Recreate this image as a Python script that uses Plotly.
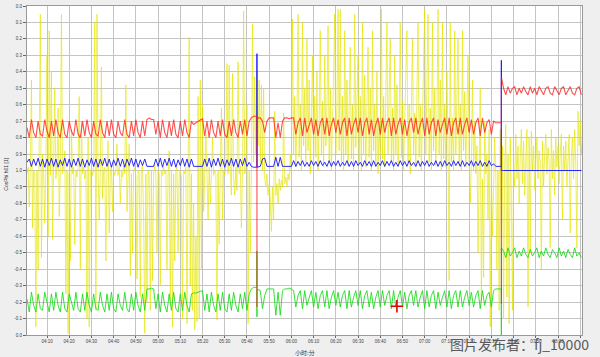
import plotly.graph_objects as go

# ---------------- data ----------------
# time in minutes after midnight; cos phi plotted on a folded scale:
# 0.0 (top) ... 1.0 (middle) ... -0.0 (bottom) -> stored as 0..2
T_START = 241          # 04:01
T_END = 490.8
T_SPIKE = 344.5        # 05:44
T_JUMP = 454.5         # 07:34
T_CURSOR = 407.5
CURSOR_VAL = 1.825

TIME_TICKS = [250, 260, 270, 280, 290, 300, 310, 320, 330, 340, 350, 360, 370, 380,
              390, 400, 410, 420, 430, 440, 450, 460, 470, 480, 490]
TIME_LABELS = ["04:10", "04:20", "04:30", "04:40", "04:50", "05:00", "05:10", "05:20",
               "05:30", "05:40", "05:50", "06:00", "06:10", "06:20", "06:30", "06:40",
               "06:50", "07:00", "07:10", "07:20", "07:30", "07:40", "07:50", "08:00", ""]
Y_LABELS = ["0.0", "0.1", "0.2", "0.3", "0.4", "0.5", "0.6", "0.7", "0.8", "0.9", "1.0",
            "-0.9", "-0.8", "-0.7", "-0.6", "-0.5", "-0.4", "-0.3", "-0.2", "-0.1", "0.0"]

# ---- red (1-min samples) ----
RED_1 = [0.74, 0.80, 0.69, 0.77, 0.80, 0.70, 0.78, 0.79, 0.69, 0.76,
         0.80, 0.70, 0.79, 0.69, 0.77, 0.80, 0.69, 0.78, 0.80, 0.70,
         0.76, 0.79, 0.69, 0.78, 0.80, 0.70, 0.79, 0.69, 0.77, 0.80,
         0.70, 0.78, 0.79, 0.69, 0.77, 0.80, 0.70, 0.79, 0.69, 0.78,
         0.80, 0.70, 0.77, 0.79, 0.69, 0.78, 0.80, 0.70, 0.79, 0.69,
         0.77, 0.80, 0.70, 0.79,
         0.69, 0.68, 0.69, 0.69,
         0.78, 0.70, 0.80, 0.69, 0.77, 0.80, 0.70, 0.79, 0.69, 0.78, 0.80, 0.70, 0.79, 0.69, 0.77, 0.80, 0.70,
         0.72, 0.71, 0.70, 0.69, 0.685,
         0.79, 0.70, 0.80, 0.69, 0.77, 0.80, 0.70, 0.79, 0.69, 0.78, 0.80, 0.70, 0.79, 0.69, 0.77, 0.80, 0.70,
         0.78, 0.69, 0.79, 0.70,
         0.68, 0.67, 0.67]
RED_SPIKE = [0.67, 1.83, 0.68]
RED_2 = [0.68, 0.70, 0.77, 0.70, 0.68, 0.68,
         0.68, 0.80, 0.71, 0.80, 0.70,
         0.68, 0.68, 0.685, 0.68,
         0.68, 0.78, 0.71, 0.68, 0.79, 0.68, 0.77, 0.72, 0.68, 0.78,
         0.69, 0.79, 0.71, 0.68, 0.78, 0.68, 0.79, 0.72, 0.68, 0.77,
         0.69, 0.78, 0.71, 0.68, 0.79, 0.68, 0.78, 0.72, 0.68, 0.77,
         0.68, 0.79, 0.71, 0.68, 0.78, 0.69, 0.79, 0.72, 0.68, 0.78,
         0.68, 0.77, 0.71, 0.68, 0.79, 0.68, 0.78, 0.72, 0.68, 0.78,
         0.69, 0.79, 0.71, 0.68, 0.77, 0.68, 0.78, 0.72, 0.68, 0.79,
         0.68, 0.78, 0.71, 0.68, 0.79, 0.69, 0.77, 0.72, 0.68, 0.78,
         0.68, 0.79, 0.71, 0.68, 0.78, 0.68, 0.78, 0.72, 0.68, 0.77,
         0.69, 0.78, 0.71, 0.68, 0.79, 0.68, 0.77, 0.71, 0.69, 0.78,
         0.70,
         0.71, 0.71]
RED_JUMP = [0.71, 1.81, 0.43]
RED_3 = [0.50, 0.54, 0.49, 0.53, 0.50, 0.49, 0.54, 0.50, 0.53, 0.49,
         0.52, 0.54, 0.49, 0.53, 0.50, 0.54, 0.49, 0.52, 0.54, 0.50,
         0.49, 0.53, 0.54, 0.49, 0.52, 0.54, 0.50, 0.49, 0.54, 0.51,
         0.49, 0.53, 0.54, 0.50, 0.49, 0.54]

# ---- blue ----
BLUE_1 = [0.95, 0.93, 0.975, 0.93, 0.97, 0.925, 0.975, 0.93, 0.98, 0.93,
          0.97, 0.925, 0.975, 0.93, 0.98, 0.935, 0.97, 0.925, 0.975, 0.93,
          0.98, 0.93, 0.97, 0.925, 0.975, 0.93, 0.98, 0.935, 0.97, 0.925,
          0.975, 0.93, 0.98, 0.93, 0.97, 0.925, 0.975, 0.93, 0.98, 0.935,
          0.97, 0.925, 0.975, 0.93, 0.98, 0.93, 0.97, 0.925, 0.975, 0.93,
          0.98, 0.935, 0.97, 0.93,
          0.975, 0.975, 0.975, 0.975,
          0.93, 0.975, 0.925, 0.98, 0.93, 0.97, 0.925, 0.975, 0.93, 0.98, 0.935, 0.97, 0.925, 0.975, 0.93, 0.98, 0.93,
          0.975, 0.975, 0.975, 0.975, 0.975,
          0.93, 0.975, 0.925, 0.98, 0.93, 0.97, 0.925, 0.975, 0.93, 0.98, 0.935, 0.97, 0.925, 0.975, 0.93, 0.98, 0.93,
          0.97, 0.925, 0.975, 0.95,
          0.975, 0.98, 0.98]
BLUE_SPIKE = [0.98, 0.29, 0.98]
BLUE_2 = [0.975, 0.93, 0.925, 0.975, 0.975, 0.975,
          0.975, 0.92, 0.975, 0.92, 0.975,
          0.975, 0.975, 0.975, 0.975,
          0.94, 0.975, 0.945, 0.97, 0.94, 0.975, 0.95, 0.975, 0.94, 0.97,
          0.945, 0.975, 0.94, 0.97, 0.95, 0.975, 0.94, 0.975, 0.945, 0.97,
          0.94, 0.975, 0.95, 0.97, 0.94, 0.975, 0.945, 0.975, 0.94, 0.97,
          0.95, 0.975, 0.94, 0.97, 0.945, 0.975, 0.94, 0.975, 0.95, 0.97,
          0.94, 0.975, 0.945, 0.97, 0.94, 0.975, 0.95, 0.975, 0.94, 0.97,
          0.945, 0.975, 0.94, 0.97, 0.95, 0.975, 0.94, 0.975, 0.945, 0.97,
          0.94, 0.975, 0.95, 0.97, 0.94, 0.975, 0.945, 0.975, 0.94, 0.97,
          0.95, 0.975, 0.94, 0.97, 0.945, 0.975, 0.94, 0.975, 0.95, 0.97,
          0.94, 0.975, 0.945, 0.97, 0.94, 0.975, 0.95, 0.975, 0.94, 0.97,
          0.96,
          0.975, 0.975]
BLUE_JUMP = [0.975, 0.33, 1.0]
BLUE_3 = [1.0, 1.0, 1.0, 1.0, 1.0, 1.0, 1.0, 1.0, 1.0, 1.0, 1.0, 1.0,
          1.0, 1.0, 1.0, 1.0, 1.0, 1.0, 1.0, 1.0, 1.0, 1.0, 1.0, 1.0,
          1.0, 1.0, 1.0, 1.0, 1.0, 1.0, 1.0, 1.0, 1.0, 1.0, 1.0, 1.0]

# ---- green ----
GREEN_1 = [1.78, 1.86, 1.74, 1.82, 1.86, 1.75, 1.84, 1.85, 1.74, 1.81,
           1.86, 1.75, 1.85, 1.74, 1.82, 1.86, 1.74, 1.84, 1.86, 1.75,
           1.81, 1.85, 1.74, 1.84, 1.86, 1.75, 1.85, 1.74, 1.82, 1.86,
           1.75, 1.84, 1.85, 1.74, 1.82, 1.86, 1.75, 1.85, 1.74, 1.84,
           1.86, 1.75, 1.82, 1.85, 1.74, 1.84, 1.86, 1.75, 1.85, 1.74,
           1.82, 1.86, 1.75, 1.85,
           1.72, 1.72, 1.715, 1.72,
           1.84, 1.75, 1.86, 1.74, 1.82, 1.86, 1.75, 1.85, 1.74, 1.84, 1.86, 1.75, 1.85, 1.74, 1.82, 1.86, 1.75,
           1.745, 1.745, 1.74, 1.735, 1.73,
           1.85, 1.75, 1.86, 1.74, 1.82, 1.86, 1.75, 1.85, 1.74, 1.84, 1.86, 1.75, 1.85, 1.74, 1.82, 1.86, 1.75,
           1.84, 1.74, 1.85, 1.75,
           1.72, 1.71, 1.71]
GREEN_SPIKE = [1.71, 1.49, 1.89, 1.72]
GREEN_2 = [1.73, 1.84, 1.76, 1.72, 1.72, 1.72,
           1.72, 1.88, 1.74, 1.88, 1.73,
           1.72, 1.72, 1.715, 1.72,
           1.73, 1.83, 1.76, 1.73, 1.84, 1.73, 1.82, 1.77, 1.73, 1.83,
           1.74, 1.84, 1.76, 1.73, 1.83, 1.73, 1.84, 1.77, 1.73, 1.82,
           1.74, 1.83, 1.76, 1.73, 1.84, 1.73, 1.83, 1.77, 1.73, 1.82,
           1.73, 1.84, 1.76, 1.73, 1.83, 1.74, 1.84, 1.77, 1.73, 1.83,
           1.73, 1.82, 1.76, 1.73, 1.84, 1.73, 1.83, 1.77, 1.73, 1.83,
           1.74, 1.84, 1.76, 1.73, 1.82, 1.73, 1.83, 1.77, 1.73, 1.84,
           1.73, 1.83, 1.76, 1.73, 1.84, 1.74, 1.82, 1.77, 1.73, 1.83,
           1.73, 1.84, 1.76, 1.73, 1.83, 1.73, 1.83, 1.77, 1.73, 1.82,
           1.74, 1.83, 1.76, 1.73, 1.84, 1.73, 1.82, 1.76, 1.74, 1.83,
           1.73,
           1.72, 1.72]
GREEN_JUMP = [1.72, 2.0, 1.47]
GREEN_3 = [1.49, 1.53, 1.47, 1.52, 1.50, 1.47, 1.53, 1.49, 1.52, 1.47,
           1.51, 1.53, 1.48, 1.52, 1.50, 1.47, 1.53, 1.49, 1.52, 1.47,
           1.51, 1.53, 1.48, 1.50, 1.53, 1.47, 1.52, 1.49, 1.53, 1.48,
           1.51, 1.53, 1.47, 1.52, 1.50, 1.53]

# ---- yellow (half-minute samples) ----
YEL_A = [1.02, 0.98, 1.22, 1.00, 0.45, 1.35, 1.00, 1.03, 1.95, 1.00,
         1.60, 1.00, 0.05, 1.53, 0.90, 1.02, 1.32, 0.98, 0.30, 1.40,
         0.15, 1.03, 0.40, 1.42, 1.00, 0.50, 1.05, 0.97, 0.62, 1.28,
         1.00, 0.05, 1.02, 0.97, 0.88, 1.75, 1.00, 1.99, 1.02, 1.55,
         0.75, 1.02, 0.98, 1.45, 1.00, 1.04, 0.97, 0.55, 1.60, 0.70,
         1.02, 0.98, 1.05, 1.00, 1.90, 0.80, 1.95, 1.02, 0.98, 1.03,
         1.00, 0.10, 1.85, 0.05, 1.02, 1.30, 1.00, 0.37, 1.17, 1.00,
         0.98, 1.55, 1.00, 0.82, 1.38, 1.02, 0.97, 1.25, 1.00, 1.03,
         1.00, 0.84, 1.03, 0.98, 1.20, 1.00, 1.04, 0.97, 1.02, 0.48,
         1.25, 1.00, 0.84, 1.64, 1.02, 1.50, 1.00, 0.98, 1.03, 1.66,
         1.00, 1.02, 1.77, 1.00, 0.97, 1.30, 1.99, 1.02, 1.80, 1.00,
         1.03, 1.85, 1.00, 1.67, 1.02, 0.96, 1.04, 1.50, 1.00, 1.02,
         1.70, 1.00, 1.03, 0.98, 1.02, 1.00, 1.60, 1.02, 0.88, 1.79,
         1.00, 1.95, 1.02, 1.55, 1.00, 0.98, 1.50, 1.02, 1.00, 1.04,
         1.90, 1.00, 1.02, 0.98, 1.93, 1.00, 0.19, 1.70, 1.02, 1.85,
         1.20, 1.97, 1.40, 1.92, 0.55, 1.90, 0.45, 1.60, 0.60, 1.25,
         1.00, 0.78, 1.02, 1.30, 0.98, 1.20, 1.02, 0.80, 1.03, 1.00,
         1.02, 1.91, 1.00, 1.45, 0.98, 0.62, 1.30, 1.00, 1.03, 0.97,
         0.35, 1.02, 0.36, 1.00, 1.15, 0.41, 1.05, 1.15, 0.98, 1.12,
         0.34, 1.02, 0.97, 1.35, 1.00, 0.03, 1.02, 0.98, 0.60, 1.93,
         1.00, 1.50, 0.98, 0.11, 0.95, 0.43, 0.90, 0.40, 0.85, 0.45,
         0.95, 0.48, 1.00, 0.50, 1.05, 1.10, 1.02, 1.15, 1.08, 1.18,
         1.37, 1.10, 1.30, 0.64, 1.15, 1.08, 1.20, 1.05, 1.12, 1.06,
         1.10, 0.65, 1.08, 1.04, 1.10, 1.02, 1.06, 0.90, 1.02, 0.08]
YEL_B = [0.90, 0.55, 0.98, 0.70, 0.05, 0.92, 0.60, 1.00, 0.10, 0.85,
         0.50, 0.95, 0.20, 0.88, 0.45, 1.02, 0.65, 0.30, 0.97, 0.55,
         0.92, 0.40, 1.00, 0.70, 0.15, 0.90, 0.58, 0.98, 0.30, 0.85,
         0.62, 0.12, 0.95, 0.50, 1.00, 0.75, 0.40, 0.05, 0.90, 0.60,
         0.02, 0.88, 0.02, 0.95, 0.55, 1.00, 0.15, 0.90, 0.45, 0.97,
         0.70, 0.25, 0.93, 0.60, 1.00, 0.05, 0.86, 0.50, 0.30, 0.95,
         0.55, 1.00, 0.10, 0.90, 0.42, 0.98, 0.65, 0.25, 0.92, 0.50,
         1.00, 0.15, 0.88, 0.60, 0.97, 0.40, 1.02, 0.70, 0.90, 0.02,
         0.93, 0.55, 0.98, 0.65, 0.10, 0.90, 0.50, 0.20, 0.95, 0.62,
         1.00, 0.30, 0.90, 0.48, 0.97, 0.75, 0.10, 0.92, 0.58, 1.00,
         0.70, 0.40, 0.15, 0.95, 0.60, 1.02, 0.50, 0.20, 0.90, 0.65,
         0.98, 0.45, 0.10, 0.92, 0.60, 1.00, 0.72, 0.38, 0.02, 0.90,
         0.55, 0.05, 0.95, 0.62, 1.00, 0.10, 0.88, 0.50, 0.97, 0.70,
         0.02, 0.90, 0.45, 1.00, 0.10, 0.93, 0.60, 0.98, 0.40, 0.85,
         1.67, 0.10, 0.95, 0.68, 1.00, 0.15, 0.90, 0.50, 0.20, 0.97,
         0.60, 1.00, 0.15, 0.88, 0.52, 0.98, 0.70, 0.30, 0.95, 1.20,
         0.95, 0.45, 1.00, 0.70, 1.02, 0.85, 1.50, 1.00, 0.50, 1.80,
         1.05, 1.65, 0.70, 1.02, 0.90, 1.30, 0.75, 1.95, 1.00, 1.40,
         1.05, 0.80, 1.02, 1.60, 1.00, 1.85, 0.75, 1.50, 0.85, 1.90]
YEL_C = [1.00, 0.72, 1.77, 0.90, 1.93, 0.80, 1.15, 1.85, 0.95, 1.10,
         0.78, 1.05, 0.85, 1.20, 0.92, 0.75, 1.08, 0.82, 1.15, 0.90,
         0.75, 1.83, 0.80, 1.50, 0.76, 1.00, 0.85, 1.12, 0.90, 0.80,
         1.05, 0.88, 0.95, 1.60, 0.82, 1.10, 0.90, 0.78, 1.02, 0.86,
         0.95, 1.47, 0.75, 1.05, 0.88, 1.15, 0.80, 0.98, 0.85, 1.08,
         0.90, 0.78, 1.30, 0.85, 1.00, 0.82, 1.10, 0.90, 0.78, 1.38,
         0.92, 0.80, 1.05, 0.75, 0.95, 1.47, 0.64, 0.85, 0.70, 0.90,
         0.80]


def expand(start, step, values):
    xs = [start + i * step for i in range(len(values))]
    return xs, list(values)


def series(seg1, spike, seg2, jump, seg3):
    xs, ys = [], []
    for start, step, vals in [(T_START, 1, seg1), (T_SPIKE, 0, spike), (T_SPIKE + 1.5, 1, seg2),
                              (T_JUMP, 0, jump), (T_JUMP + 1, 1, seg3)]:
        a, b = expand(start, step, vals)
        xs += a
        ys += b
    return xs, ys


yx, yy = [], []
for start, vals in [(T_START, YEL_A), (361, YEL_B), (456, YEL_C)]:
    a, b = expand(start, 0.5, vals)
    yx += a
    yy += b

rx, ry = series(RED_1, RED_SPIKE, RED_2, RED_JUMP, RED_3)
bx, by = series(BLUE_1, BLUE_SPIKE, BLUE_2, BLUE_JUMP, BLUE_3)
gx, gy = series(GREEN_1, GREEN_SPIKE, GREEN_2, GREEN_JUMP, GREEN_3)

fig = go.Figure()
fig.add_trace(go.Scatter(x=yx, y=yy, mode="lines", hoverinfo="skip",
                         line=dict(color="rgba(228,228,0,0.72)", width=0.9)))
fig.add_trace(go.Scatter(x=gx, y=gy, mode="lines", hoverinfo="skip",
                         line=dict(color="rgba(20,220,20,0.85)", width=1)))
fig.add_trace(go.Scatter(x=bx, y=by, mode="lines", hoverinfo="skip",
                         line=dict(color="rgba(20,20,255,0.9)", width=1)))
fig.add_trace(go.Scatter(x=rx, y=ry, mode="lines", hoverinfo="skip",
                         line=dict(color="rgba(255,20,20,0.75)", width=1.1)))
fig.add_trace(go.Scatter(x=[T_CURSOR], y=[CURSOR_VAL], mode="markers", hoverinfo="skip",
                         marker=dict(symbol="cross-thin", size=9,
                                     line=dict(color="#e00000", width=1.6))))

tick_font = dict(family="Liberation Sans, Arial", size=4.5, color="#444444")
fig.update_layout(
    width=600, height=357, autosize=False,
    margin=dict(l=27, r=18, t=4, b=22),
    paper_bgcolor="#efefef", plot_bgcolor="#ffffff",
    showlegend=False,
    xaxis=dict(range=[T_START, T_END], tickvals=TIME_TICKS, ticktext=TIME_LABELS,
               showgrid=True, gridcolor="#c4c4c4", gridwidth=1, zeroline=False,
               ticks="outside", ticklen=2, tickcolor="#666", tickfont=tick_font,
               showline=True, linecolor="#999999", mirror=True),
    yaxis=dict(range=[2.0, 0.0], tickvals=[i / 10 for i in range(len(Y_LABELS))],
               ticktext=Y_LABELS, showgrid=True, gridcolor="#c4c4c4", gridwidth=1,
               zeroline=False, ticks="outside", ticklen=3, tickcolor="#666",
               tickfont=tick_font, showline=True, linecolor="#999999", mirror=True),
    annotations=[
        dict(text="CosPhi h01 [1]", xref="paper", yref="paper", x=-0.038, y=0.49,
             xanchor="center", yanchor="middle", textangle=-90, showarrow=False,
             font=dict(family="Liberation Sans, Arial", size=5, color="#333333")),
        dict(text="小时:分", xref="paper", yref="paper", x=0.5, y=-0.052,
             xanchor="center", yanchor="middle", showarrow=False,
             font=dict(family="Noto Sans CJK SC", size=6, color="#333333")),
        dict(text="图片发布者：fj_10000", xref="paper", yref="paper", x=0.888, y=-0.027,
             xanchor="center", yanchor="middle", showarrow=False,
             font=dict(family="Noto Sans CJK SC", size=14, color="#5a5a5a")),
    ],
)

fig.write_html("out.html", config={"displayModeBar": False},
               post_script="document.body.style.margin='0';")
